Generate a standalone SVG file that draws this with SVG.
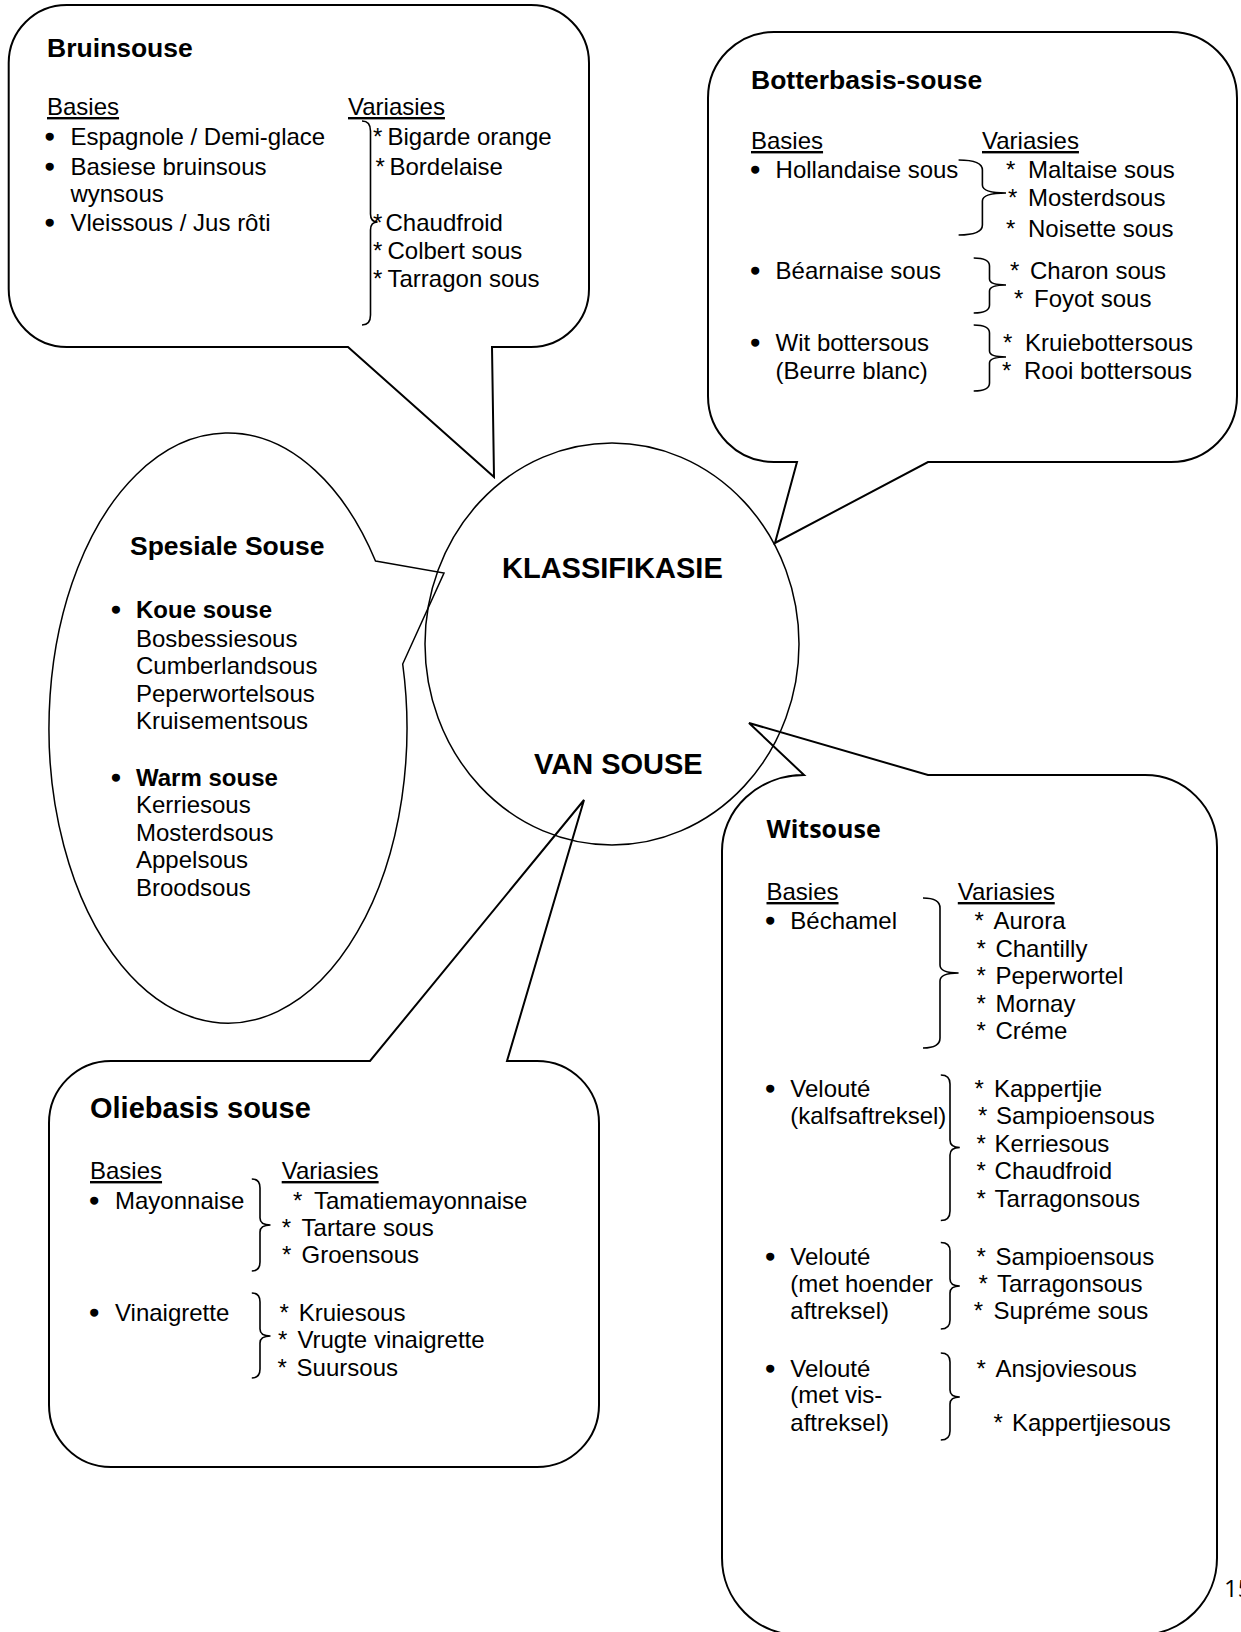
<svg xmlns="http://www.w3.org/2000/svg" width="1241" height="1632" viewBox="0 0 1241 1632">
<style>
.b{fill:none;stroke:#000;stroke-width:2}
.c{fill:none;stroke:#000;stroke-width:1.5}
.br{fill:none;stroke:#000;stroke-width:1.6}
text{font-family:"Liberation Sans",Arial,sans-serif;font-size:24px;fill:#000}
.h{font-weight:bold;font-size:26.5px}
.hc{font-weight:bold;font-size:29px}
.u{text-decoration:underline}
.k{font-weight:bold}
.d{stroke:#000;stroke-width:1.6}
.cal{font-family:"Open Sans","Noto Sans",sans-serif}
</style>
<rect width="1241" height="1632" fill="#fff"/>

<g id="bruinsouse">
<path class="b" d="M68.7,5 H531 A58,58 0 0 1 589,63 V289 A58,58 0 0 1 531,347 H492 L494,477 L348,347 H66.7 A58,58 0 0 1 8.7,289 V63 A58,58 0 0 1 66.7,5 Z"/>
<text class="h" x="47" y="57">Bruinsouse</text>
<text class="u" x="47" y="115">Basies</text>
<text class="u" x="348" y="115">Variasies</text>
<text class="d" x="45.6" y="145">•</text><text x="70.4" y="145">Espagnole / Demi-glace</text>
<text class="d" x="45.6" y="175">•</text><text x="70.4" y="175">Basiese bruinsous</text>
<text x="70.4" y="202">wynsous</text>
<text class="d" x="45.6" y="231">•</text><text x="70.4" y="231">Vleissous / Jus rôti</text>
<text x="373" y="145">*</text><text x="387.5" y="145">Bigarde orange</text>
<text x="375.5" y="175">*</text><text x="389.5" y="175">Bordelaise</text>
<text x="373" y="231">*</text><text x="385.5" y="231">Chaudfroid</text>
<text x="373" y="259">*</text><text x="387.5" y="259">Colbert sous</text>
<text x="373" y="287">*</text><text x="387.5" y="287">Tarragon sous</text>
</g>

<g id="botterbasis">
<path class="b" d="M774,32 H1171 A66,66 0 0 1 1237,98 V396 A66,66 0 0 1 1171,462 H928 L775,543 L797,462 H774 A66,66 0 0 1 708,396 V98 A66,66 0 0 1 774,32 Z"/>
<text class="h" x="751" y="89">Botterbasis-souse</text>
<text class="u" x="751" y="149">Basies</text>
<text class="u" x="982" y="149">Variasies</text>
<text class="d" x="751" y="178">•</text><text x="775.6" y="178">Hollandaise sous</text>
<text class="d" x="751" y="279">•</text><text x="775.6" y="279">Béarnaise sous</text>
<text class="d" x="751" y="351">•</text><text x="775.6" y="351">Wit bottersous</text>
<text x="775.6" y="379">(Beurre blanc)</text>
<text x="1006" y="178">*</text><text x="1028" y="178">Maltaise sous</text>
<text x="1008" y="206">*</text><text x="1028" y="206">Mosterdsous</text>
<text x="1006" y="237">*</text><text x="1028" y="237">Noisette sous</text>
<text x="1010" y="279">*</text><text x="1030" y="279">Charon sous</text>
<text x="1014" y="307">*</text><text x="1034" y="307">Foyot sous</text>
<text x="1003" y="351">*</text><text x="1025" y="351">Kruiebottersous</text>
<text x="1002" y="379">*</text><text x="1024" y="379">Rooi bottersous</text>
</g>

<g id="spesiale">
<path class="c" d="M375.5,561 L444,573 L402.7,664 A179,295 0 1 1 375.5,561 Z"/>
<text class="h" x="130" y="555">Spesiale Souse</text>
<text class="d" x="111.8" y="618">•</text><text class="k" x="136" y="618">Koue souse</text>
<text x="136" y="646.5">Bosbessiesous</text>
<text x="136" y="674">Cumberlandsous</text>
<text x="136" y="701.5">Peperwortelsous</text>
<text x="136" y="729">Kruisementsous</text>
<text class="d" x="111.8" y="786">•</text><text class="k" x="136" y="786">Warm souse</text>
<text x="136" y="813">Kerriesous</text>
<text x="136" y="840.7">Mosterdsous</text>
<text x="136" y="868">Appelsous</text>
<text x="136" y="895.6">Broodsous</text>
</g>

<g id="oliebasis">
<path class="b" d="M111,1061 H370 L584,800 L507,1061 H537 A62,62 0 0 1 599,1123 V1405 A62,62 0 0 1 537,1467 H111 A62,62 0 0 1 49,1405 V1123 A62,62 0 0 1 111,1061 Z"/>
<text class="hc" x="90" y="1118">Oliebasis souse</text>
<text class="u" x="90" y="1179">Basies</text>
<text class="u" x="281.7" y="1179">Variasies</text>
<text class="d" x="90" y="1209">•</text><text x="115" y="1209">Mayonnaise</text>
<text class="d" x="90" y="1321">•</text><text x="115" y="1321">Vinaigrette</text>
<text x="293" y="1209">*</text><text x="314" y="1209">Tamatiemayonnaise</text>
<text x="281.7" y="1236">*</text><text x="301.6" y="1236">Tartare sous</text>
<text x="282" y="1263">*</text><text x="301.6" y="1263">Groensous</text>
<text x="279.6" y="1321">*</text><text x="298.7" y="1321">Kruiesous</text>
<text x="278" y="1348">*</text><text x="297.4" y="1348">Vrugte vinaigrette</text>
<text x="277.5" y="1376">*</text><text x="296.6" y="1376">Suursous</text>
</g>

<g id="witsouse">
<path class="b" d="M804,775 L749,723 L928,775 H1145 A72,72 0 0 1 1217,847 V1558 A77,77 0 0 1 1140,1635 H799 A77,77 0 0 1 722,1558 V851 A82,76 0 0 1 804,775 Z"/>
<text class="cal" x="766.5" y="838" style="font-weight:bold;font-size:25px">Witsouse</text>
<text class="u" x="766.5" y="900">Basies</text>
<text class="u" x="957.8" y="900">Variasies</text>
<text class="d" x="766" y="929">•</text><text x="790.3" y="929">Béchamel</text>
<text x="974.5" y="929">*</text><text x="993.5" y="929">Aurora</text>
<text x="976.4" y="957">*</text><text x="995.4" y="957">Chantilly</text>
<text x="976.4" y="984">*</text><text x="995.4" y="984">Peperwortel</text>
<text x="976.4" y="1012">*</text><text x="995.4" y="1012">Mornay</text>
<text x="976.4" y="1039">*</text><text x="995.4" y="1039">Créme</text>
<text class="d" x="766" y="1097">•</text><text x="790.3" y="1097">Velouté</text>
<text x="790.3" y="1124">(kalfsaftreksel)</text>
<text x="974.5" y="1097">*</text><text x="994" y="1097">Kappertjie</text>
<text x="978" y="1124">*</text><text x="996" y="1124">Sampioensous</text>
<text x="976.4" y="1152">*</text><text x="994.6" y="1152">Kerriesous</text>
<text x="976.4" y="1179">*</text><text x="994.6" y="1179">Chaudfroid</text>
<text x="976.4" y="1207">*</text><text x="994.6" y="1207">Tarragonsous</text>
<text class="d" x="766" y="1265">•</text><text x="790.3" y="1265">Velouté</text>
<text x="790.3" y="1292">(met hoender</text>
<text x="790.3" y="1319">aftreksel)</text>
<text x="976.4" y="1265">*</text><text x="995.4" y="1265">Sampioensous</text>
<text x="978.4" y="1292">*</text><text x="997" y="1292">Tarragonsous</text>
<text x="973.7" y="1319">*</text><text x="993.5" y="1319">Supréme sous</text>
<text class="d" x="766" y="1377">•</text><text x="790.3" y="1377">Velouté</text>
<text x="790.3" y="1403">(met vis-</text>
<text x="790.3" y="1431">aftreksel)</text>
<text x="976.4" y="1377">*</text><text x="995.4" y="1377">Ansjoviesous</text>
<text x="993.5" y="1431">*</text><text x="1012" y="1431">Kappertjiesous</text>
</g>

<g id="klassifikasie">
<ellipse class="c" cx="612" cy="644" rx="187" ry="201"/>
<text class="hc" x="502" y="578">KLASSIFIKASIE</text>
<text class="hc" x="534" y="774">VAN SOUSE</text>
</g>

<g id="connectors">
<path class="br" d="M362,121 Q370.5,121 370.5,131 L370.5,214 Q370.5,222 377.6,222 Q370.5,222 370.5,230 L370.5,315 Q370.5,325 362,325"/>
<path class="br" d="M958.6,160 Q982.4,160 982.4,170 L982.4,185 Q982.4,193 1006,193 Q982.4,193 982.4,201 L982.4,225 Q982.4,235 958.6,235"/>
<path class="br" d="M973.7,258 Q989.5,258 989.5,266 L989.5,279 Q989.5,285 1006,285 Q989.5,285 989.5,291 L989.5,305 Q989.5,313 973.7,313"/>
<path class="br" d="M973.7,325 Q989.5,325 989.5,333 L989.5,351 Q989.5,357 1006,357 Q989.5,357 989.5,363 L989.5,383 Q989.5,391 973.7,391"/>
<path class="br" d="M251.8,1179 Q260,1179 260,1188 L260,1218 Q260,1225 270.5,1225 Q260,1225 260,1232 L260,1262 Q260,1271 251.8,1271"/>
<path class="br" d="M251.8,1293 Q260,1293 260,1302 L260,1329 Q260,1336 270.5,1336 Q260,1336 260,1343 L260,1369 Q260,1378 251.8,1378"/>
<path class="br" d="M923,898 Q940,898 940,908 L940,965 Q940,973 958.6,973 Q940,973 940,981 L940,1038 Q940,1048 923,1048"/>
<path class="br" d="M940.8,1075 Q950,1075 950,1084 L950,1140 Q950,1147.5 959.8,1147.5 Q950,1147.5 950,1155 L950,1211 Q950,1220.5 940.8,1220.5"/>
<path class="br" d="M940.8,1242.5 Q950,1242.5 950,1251 L950,1279 Q950,1286 959.8,1286 Q950,1286 950,1293 L950,1320 Q950,1329 940.8,1329"/>
<path class="br" d="M940.8,1353 Q950,1353 950,1362 L950,1390 Q950,1397 959.8,1397 Q950,1397 950,1404 L950,1431 Q950,1440 940.8,1440"/>
</g>

<text class="cal" x="1224" y="1597" style="font-size:24px">15</text>
</svg>
